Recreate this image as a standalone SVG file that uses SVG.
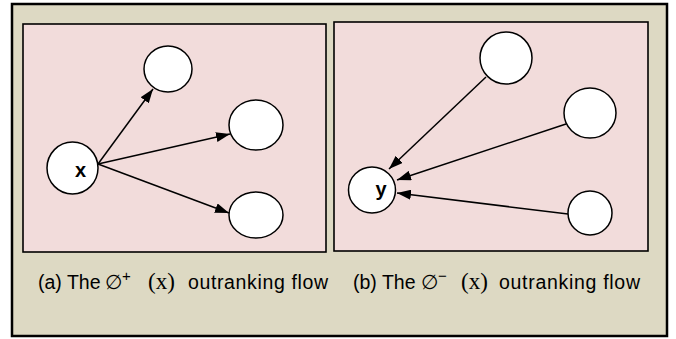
<svg xmlns="http://www.w3.org/2000/svg" width="676" height="339" viewBox="0 0 676 339">
<defs>
<marker id="ah" viewBox="0 0 14 10" refX="14" refY="5" markerWidth="14" markerHeight="10" markerUnits="userSpaceOnUse" orient="auto">
<path d="M0,0 L14,5 L0,10 z" fill="#000"/>
</marker>
<style>
.node{fill:#fff;stroke:#000;stroke-width:1.5}
.panel{fill:#F2DCDB;stroke:#000;stroke-width:1.6}
.edge{stroke:#000;stroke-width:1.5;fill:none;marker-end:url(#ah)}
.cap{font-family:"Liberation Sans",Arial,sans-serif;font-size:19.5px;fill:#000}
.ser{font-family:"Liberation Serif","Times New Roman",serif;font-size:23px}
.sup{font-size:15px}
.lbl{font-family:"Liberation Sans",Arial,sans-serif;font-size:20px;font-weight:bold;fill:#000;text-anchor:middle}
</style>
</defs>
<rect x="12" y="4" width="655" height="332" fill="#DDD9C3" stroke="#000" stroke-width="2.5"/>
<rect class="panel" x="23" y="24" width="303" height="228"/>
<rect class="panel" x="334" y="22" width="314" height="229"/>
<g id="connectors">
<line class="edge" x1="98" y1="164" x2="153" y2="89"/>
<line class="edge" x1="98" y1="164" x2="230" y2="134"/>
<line class="edge" x1="98" y1="164" x2="229" y2="213"/>
<line class="edge" x1="486" y1="77" x2="389" y2="169"/>
<line class="edge" x1="566" y1="124" x2="397" y2="180"/>
<line class="edge" x1="568" y1="214" x2="397" y2="193"/>
</g>
<g id="node-x"><ellipse class="node" cx="72.5" cy="168" rx="25.5" ry="26"/><text class="lbl" x="80.5" y="177">x</text></g>
<g id="node-a1"><ellipse class="node" cx="168" cy="69" rx="24" ry="23"/></g>
<g id="node-a2"><ellipse class="node" cx="256" cy="125" rx="27" ry="25"/></g>
<g id="node-a3"><ellipse class="node" cx="256" cy="215" rx="27" ry="23"/></g>
<g id="node-y"><ellipse class="node" cx="372" cy="190" rx="23.5" ry="23"/><text class="lbl" x="381" y="196">y</text></g>
<g id="node-b1"><ellipse class="node" cx="506" cy="58" rx="26" ry="26"/></g>
<g id="node-b2"><ellipse class="node" cx="590" cy="113" rx="26" ry="25"/></g>
<g id="node-b3"><ellipse class="node" cx="590" cy="213" rx="22" ry="22"/></g>
<text class="cap" x="38" y="289">(a) The<tspan x="105">∅</tspan><tspan class="sup" x="122" dy="-8">+</tspan><tspan class="ser" x="148" dy="8">(x)</tspan><tspan x="188" textLength="140">outranking flow</tspan></text>
<text class="cap" x="353" y="289">(b) The<tspan x="421">∅</tspan><tspan class="sup" x="438" dy="-8">−</tspan><tspan class="ser" x="461" dy="8">(x)</tspan><tspan x="499" textLength="141">outranking flow</tspan></text>
</svg>
